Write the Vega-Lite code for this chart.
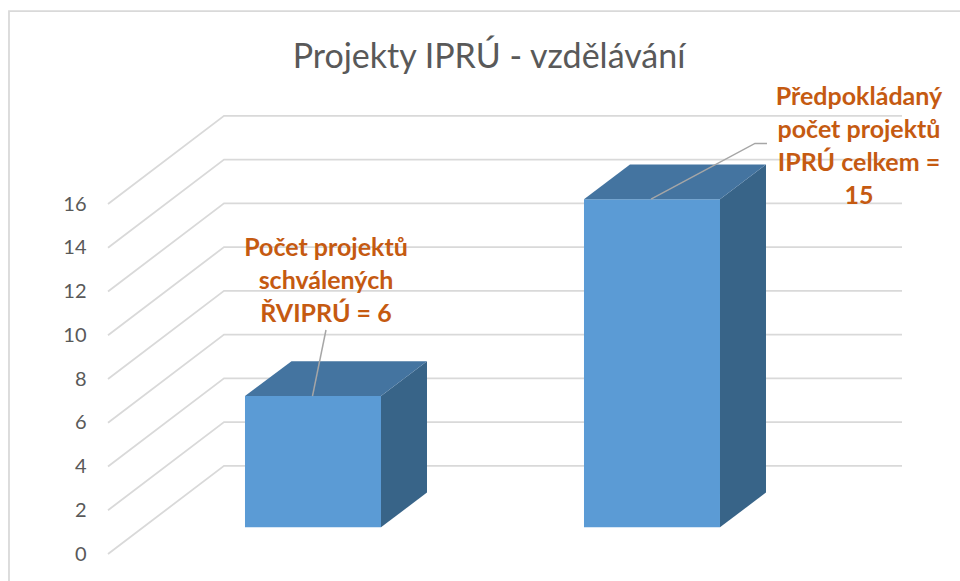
{
"$schema":"https://vega.github.io/schema/vega-lite/v6.json",
"width":960,"height":581,"padding":0,"autosize":{"type":"none"},
"background":"white",
"view":{"stroke":null},
"title":{"text":"Projekty IPRÚ - vzdělávání","anchor":"middle","frame":"group","offset":-75,"dx":9,"font":"Lato","fontSize":34,"fontWeight":"normal","color":"#595959"},
"datasets":{
"walls":[
{"s":"border","i":0,"x":0.1032,"y":-1.234},{"s":"border","i":1,"x":0.1032,"y":24.82},{"s":"border","i":2,"x":2.9086,"y":24.82},
{"s":"g0","i":0,"x":0.3953,"y":0},{"s":"g0","i":1,"x":0.7375,"y":4.03},{"s":"g0","i":2,"x":2.7375,"y":4.03},
{"s":"g2","i":0,"x":0.3953,"y":2},{"s":"g2","i":1,"x":0.7375,"y":6.03},{"s":"g2","i":2,"x":2.7375,"y":6.03},
{"s":"g4","i":0,"x":0.3953,"y":4},{"s":"g4","i":1,"x":0.7375,"y":8.03},{"s":"g4","i":2,"x":2.7375,"y":8.03},
{"s":"g6","i":0,"x":0.3953,"y":6},{"s":"g6","i":1,"x":0.7375,"y":10.03},{"s":"g6","i":2,"x":2.7375,"y":10.03},
{"s":"g8","i":0,"x":0.3953,"y":8},{"s":"g8","i":1,"x":0.7375,"y":12.03},{"s":"g8","i":2,"x":2.7375,"y":12.03},
{"s":"g10","i":0,"x":0.3953,"y":10},{"s":"g10","i":1,"x":0.7375,"y":14.03},{"s":"g10","i":2,"x":2.7375,"y":14.03},
{"s":"g12","i":0,"x":0.3953,"y":12},{"s":"g12","i":1,"x":0.7375,"y":16.03},{"s":"g12","i":2,"x":2.7375,"y":16.03},
{"s":"g14","i":0,"x":0.3953,"y":14},{"s":"g14","i":1,"x":0.7375,"y":18.03},{"s":"g14","i":2,"x":2.7375,"y":18.03},
{"s":"g16","i":0,"x":0.3953,"y":16},{"s":"g16","i":1,"x":0.7375,"y":20.03},{"s":"g16","i":2,"x":2.7375,"y":20.03}
],
"faces":[
{"poly":"a-front","face":"front","x":0.7994,"low":1.22,"high":7.22},{"poly":"a-front","face":"front","x":1.2006,"low":1.22,"high":7.22},
{"poly":"a-side","face":"side","x":1.2006,"low":1.22,"high":7.22},{"poly":"a-side","face":"side","x":1.3363,"low":2.81,"high":8.81},
{"poly":"a-top","face":"top","x":0.7994,"low":7.22,"high":7.22},{"poly":"a-top","face":"top","x":0.9366,"low":7.22,"high":8.81},{"poly":"a-top","face":"top","x":1.2006,"low":7.22,"high":8.81},{"poly":"a-top","face":"top","x":1.3363,"low":8.81,"high":8.81},
{"poly":"b-front","face":"front","x":1.7994,"low":1.22,"high":16.22},{"poly":"b-front","face":"front","x":2.2006,"low":1.22,"high":16.22},
{"poly":"b-side","face":"side","x":2.2006,"low":1.22,"high":16.22},{"poly":"b-side","face":"side","x":2.3363,"low":2.81,"high":17.81},
{"poly":"b-top","face":"top","x":1.7994,"low":16.22,"high":16.22},{"poly":"b-top","face":"top","x":1.9351,"low":16.22,"high":17.81},{"poly":"b-top","face":"top","x":2.2006,"low":16.22,"high":17.81},{"poly":"b-top","face":"top","x":2.3363,"low":17.81,"high":17.81}
],
"leaders":[
{"s":"a","i":0,"x":0.9985,"y":7.22},{"s":"a","i":1,"x":1.0383,"y":10.24},
{"s":"b","i":0,"x":1.9971,"y":16.22},{"s":"b","i":1,"x":2.3038,"y":18.77},{"s":"b","i":2,"x":2.3392,"y":18.77}
],
"labels":[
{"x":1.0383,"y":13.99,"label":"Počet projektů\nschválených\nŘVIPRÚ = 6"},
{"x":2.6106,"y":20.89,"label":"Předpokládaný\npočet projektů\nIPRÚ celkem =\n15"}
]
},
"encoding":{
"x":{"field":"x","type":"quantitative","scale":{"domain":[0.0767,2.9086],"nice":false,"zero":false},"axis":null},
"y":{"field":"y","type":"quantitative","scale":{"domain":[-1.234,25.326],"nice":false,"zero":false},
"axis":{"title":null,"values":[0,2,4,6,8,10,12,14,16],"offset":-90,"ticks":false,"domain":false,"grid":false,"labelPadding":4,"labelFont":"Lato","labelFontSize":20,"labelColor":"#595959"}}
},
"layer":[
{"data":{"name":"walls"},"mark":{"type":"line","strokeWidth":1.8,"color":"#d9d9d9","clip":false},
"encoding":{"detail":{"field":"s"},"order":{"field":"i","type":"quantitative"}}},
{"data":{"name":"faces"},"mark":{"type":"area","opacity":1},
"encoding":{"y":{"field":"low","type":"quantitative"},"y2":{"field":"high"},"detail":{"field":"poly"},
"color":{"field":"face","type":"nominal","legend":null,"scale":{"domain":["front","side","top"],"range":["#5B9BD5","#386488","#4474A0"]}}}},
{"data":{"name":"leaders"},"mark":{"type":"line","strokeWidth":1.5,"color":"#A6A6A6"},
"encoding":{"detail":{"field":"s"},"order":{"field":"i","type":"quantitative"}}},
{"data":{"name":"labels"},"mark":{"type":"text","font":"Lato","fontSize":25,"fontWeight":"bold","color":"#C55A11","align":"center","baseline":"middle","lineBreak":"\n","lineHeight":33},
"encoding":{"text":{"field":"label"}}}
]
}
